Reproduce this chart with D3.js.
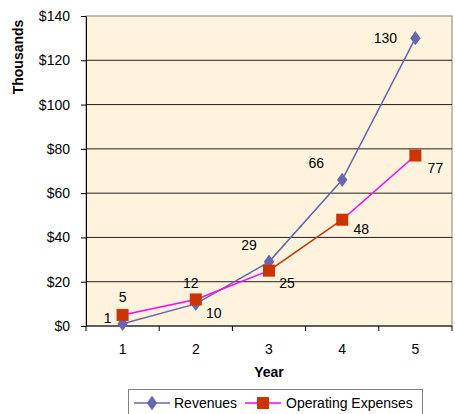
<!DOCTYPE html>
<html>
<head>
<meta charset="utf-8">
<script src="https://cdn.jsdelivr.net/npm/d3@7"></script>
<style>
body{margin:0;background:#fff;}
text{font-family:"Liberation Sans",Arial,sans-serif;}
</style>
</head>
<body>
<svg></svg>
<script>
var years=[1,2,3,4,5];
var revenues=[1,10,29,66,130];
var expenses=[5,12,25,48,77];
var yTicks=[0,20,40,60,80,100,120,140];

var width=455;
var height=414;
var plotLeft=86, plotRight=452, plotTop=16, plotBottom=326;

var svg=d3.select("svg")
.attr("width",width)
.attr("height",height);

var x=d3.scaleBand()
.domain(years)
.range([plotLeft,plotRight]);

var y=d3.scaleLinear()
.domain([0,140])
.range([plotBottom,plotTop]);

var cx=function(d){return x(d)+x.bandwidth()/2;};

// plot background
svg.append("rect")
.attr("x",plotLeft)
.attr("y",plotTop)
.attr("width",plotRight-plotLeft)
.attr("height",plotBottom-plotTop)
.attr("fill","#FFF3DD")
.attr("stroke","#808080");

// gridlines
svg.selectAll("line.grid")
.data(yTicks.slice(1,-1))
.enter()
.append("line")
.attr("class","grid")
.attr("x1",plotLeft)
.attr("x2",plotRight)
.attr("y1",function(d){return y(d);})
.attr("y2",function(d){return y(d);})
.attr("stroke","#222")
.attr("stroke-width",1);

// y axis
var yAxis=d3.axisLeft(y)
.tickValues(yTicks)
.tickSize(5)
.tickSizeOuter(0)
.tickPadding(11)
.tickFormat(function(d){return "$"+d;});
var gy=svg.append("g")
.attr("transform","translate("+plotLeft+",0)")
.call(yAxis);
gy.selectAll("text").attr("font-size","14px").attr("fill","#000").style("font-family","Liberation Sans, Arial, sans-serif");
gy.selectAll("line,path").attr("stroke","#000");

// x axis
var gx=svg.append("g")
.attr("transform","translate(0,"+plotBottom+")");
gx.append("line")
.attr("x1",plotLeft).attr("x2",plotRight)
.attr("y1",0).attr("y2",0)
.attr("stroke","#000");
var edges=years.map(function(d){return x(d);}).concat([plotRight]);
gx.selectAll("line.tick")
.data(edges)
.enter()
.append("line")
.attr("class","tick")
.attr("x1",function(d){return d;})
.attr("x2",function(d){return d;})
.attr("y1",0).attr("y2",5)
.attr("stroke","#000");
gx.selectAll("text")
.data(years)
.enter()
.append("text")
.attr("x",cx)
.attr("y",28)
.attr("text-anchor","middle")
.attr("font-size","14px")
.text(function(d){return d;});

// axis titles
svg.append("text")
.attr("transform","translate(23,57) rotate(-90)")
.attr("text-anchor","middle")
.attr("font-size","14px")
.attr("font-weight","bold")
.text("Thousands");
svg.append("text")
.attr("x",269)
.attr("y",377)
.attr("text-anchor","middle")
.attr("font-size","14px")
.attr("font-weight","bold")
.text("Year");

var line=d3.line()
.x(function(d){return cx(d.year);})
.y(function(d){return y(d.v);});

var revData=years.map(function(d,i){return {year:d,v:revenues[i]};});
var expData=years.map(function(d,i){return {year:d,v:expenses[i]};});

// revenues line
svg.append("path")
.datum(revData)
.attr("d",line)
.attr("fill","none")
.attr("stroke","#6666B3")
.attr("stroke-width",1.5);

// expenses line, segment by segment
var segColors=["#FF00FF","#FF00FF","#CC3300","#FF00FF"];
svg.selectAll("path.seg")
.data(d3.pairs(expData))
.enter()
.append("path")
.attr("class","seg")
.attr("d",function(d){return line(d);})
.attr("fill","none")
.attr("stroke",function(d,i){return segColors[i];})
.attr("stroke-width",1.5);

var diamond=d3.symbol().type(d3.symbolDiamond).size(60);
svg.selectAll("path.rev")
.data(revData)
.enter()
.append("path")
.attr("class","rev")
.attr("d",diamond)
.attr("transform",function(d){return "translate("+cx(d.year)+","+y(d.v)+") scale(1.25,1)";})
.attr("fill","#6666B3");

svg.selectAll("rect.exp")
.data(expData)
.enter()
.append("rect")
.attr("class","exp")
.attr("x",function(d){return cx(d.year)-6;})
.attr("y",function(d){return y(d.v)-6;})
.attr("width",12)
.attr("height",12)
.attr("fill","#CC3300");

// data labels
var revOff=[[-15,-6],[18,9],[-20,-17],[-26,-17],[-30,0]];
var expOff=[[0,-18],[-5,-16],[18,12],[19,9],[20,12]];
svg.selectAll("text.revlab")
.data(revData)
.enter()
.append("text")
.attr("class","revlab")
.attr("x",function(d,i){return cx(d.year)+revOff[i][0];})
.attr("y",function(d,i){return y(d.v)+revOff[i][1]+5;})
.attr("text-anchor","middle")
.attr("font-size","14px")
.text(function(d){return d.v;});
svg.selectAll("text.explab")
.data(expData)
.enter()
.append("text")
.attr("class","explab")
.attr("x",function(d,i){return cx(d.year)+expOff[i][0];})
.attr("y",function(d,i){return y(d.v)+expOff[i][1]+5;})
.attr("text-anchor","middle")
.attr("font-size","14px")
.text(function(d){return d.v;});

// legend
var lg=svg.append("g");
lg.append("rect")
.attr("x",128.5).attr("y",389.5)
.attr("width",294).attr("height",30)
.attr("fill","#fff")
.attr("stroke","#808080");
lg.append("line")
.attr("x1",134).attr("x2",170).attr("y1",403).attr("y2",403)
.attr("stroke","#6666B3").attr("stroke-width",1.5);
lg.append("path")
.attr("d",diamond)
.attr("transform","translate(152,403) scale(1.25,1)")
.attr("fill","#6666B3");
lg.append("text")
.attr("x",174).attr("y",408)
.attr("font-size","14px")
.text("Revenues");
lg.append("line")
.attr("x1",245).attr("x2",281).attr("y1",403).attr("y2",403)
.attr("stroke","#FF00FF").attr("stroke-width",1.5);
lg.append("rect")
.attr("x",257).attr("y",397).attr("width",12).attr("height",12)
.attr("fill","#CC3300");
lg.append("text")
.attr("x",286).attr("y",408)
.attr("font-size","14px")
.text("Operating Expenses");
</script>
</body>
</html>
